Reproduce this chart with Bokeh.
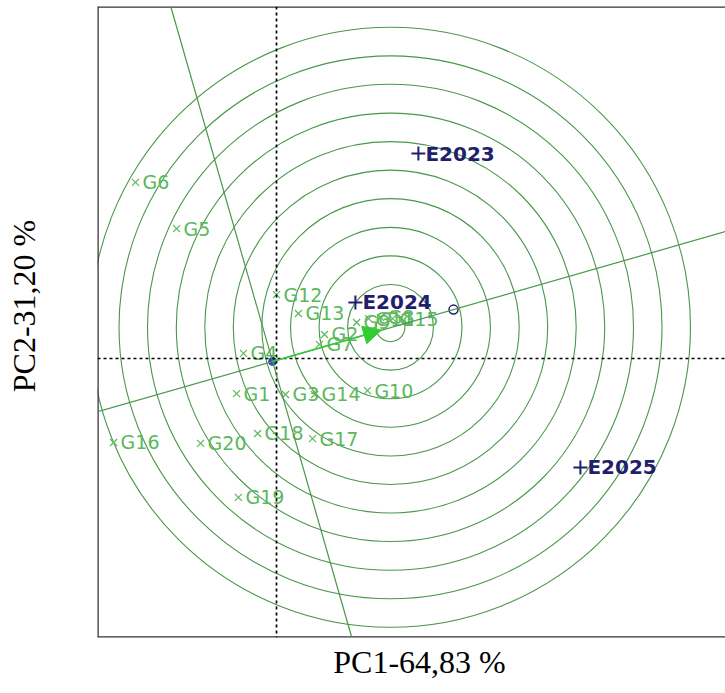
from bokeh.plotting import figure
from bokeh.models import ColumnDataSource, Span, Slope, Arrow, NormalHead, Range1d, FixedTicker
from bokeh.core.properties import value
from bokeh.embed import file_html
from bokeh.resources import INLINE

# ---------------- data ----------------
GENOTYPES = ["G1", "G2", "G3", "G4", "G5", "G6", "G7", "G8", "G9", "G10",
             "G11", "G12", "G13", "G14", "G15", "G16", "G17", "G18", "G19", "G20"]
G_PC1 = [-1.33, 1.60, 0.30, -1.10, -3.33, -4.70, 1.43, 3.47, 2.67, 3.03,
         3.07, 0.00, 0.73, 1.27, 3.87, -5.43, 1.20, -0.63, -1.27, -2.53]
G_PC2 = [-1.17, 0.80, -1.20, 0.17, 4.33, 5.87, 0.47, 1.37, 1.20, -1.07,
         1.33, 2.13, 1.50, -1.20, 1.33, -2.80, -2.67, -2.50, -4.63, -2.83]

ENVS = ["E2023", "E2024", "E2025"]
E_PC1 = [4.73, 2.63, 10.13]
E_PC2 = [6.83, 1.87, -3.63]

AVG_ENV = [5.90, 1.63]        # average environment (small circle)
ORIGIN = [-0.13, -0.10]       # biplot origin (blue dot)
IDEAL = [3.80, 1.04]          # ideal genotype (centre of the circles)
RADII = [0.48, 1.43, 2.38, 3.33, 4.29, 5.24, 6.19, 7.14, 8.10, 9.05, 10.00]

X_TITLE = "PC1-64,83 %"
Y_TITLE = "PC2-31,20 %"

# ---------------- styling ----------------
GREEN_LINE = "#4a974a"
GREEN_TXT = "#5cb85c"
GREEN_BRIGHT = "#33cc33"
NAVY = "#1f1f6e"
BLUE_DOT = "#3048c0"
NBSP = "\u00a0"

X0, X1 = -5.967, 14.967
Y0, Y1 = -9.3, 11.733

p = figure(width=725, height=685, x_range=Range1d(X0, X1), y_range=Range1d(Y0, Y1),
           x_axis_location="below", y_axis_location="left",
           toolbar_location=None, output_backend="svg",
           min_border_left=97, min_border_right=0, min_border_top=6, min_border_bottom=48)
p.grid.visible = False
p.outline_line_color = None
p.background_fill_color = "white"
p.border_fill_color = "white"

# axes: only their titles are shown (the reference has no ticks)
for ax in (p.xaxis, p.yaxis):
    ax.ticker = FixedTicker(ticks=[])
    ax.axis_line_color = None
    ax.major_tick_line_color = None
    ax.minor_tick_line_color = None
    ax.axis_label_text_font = "Liberation Serif"
    ax.axis_label_text_font_size = "32px"
    ax.axis_label_text_font_style = "normal"
    ax.axis_label_text_color = "black"
# leading no-break spaces nudge the centred titles to where the reference has them
p.xaxis.axis_label = NBSP * 2 + X_TITLE
p.yaxis.axis_label = NBSP * 4 + Y_TITLE
p.xaxis.axis_label_standoff = 6
p.yaxis.axis_label_standoff = 56

# frame (left, top, bottom; right side is cut off in the reference)
for loc, dim in [(X0, "height"), (Y1, "width"), (Y0, "width")]:
    p.add_layout(Span(location=loc, dimension=dim, line_color="#333333", line_width=2.5))

# dotted zero axes
p.add_layout(Span(location=0, dimension="height", line_color="black", line_width=1.7, line_dash="3 3"))
p.add_layout(Span(location=0, dimension="width", line_color="black", line_width=1.7, line_dash="3 3"))

# concentric circles around the ideal genotype
csrc = ColumnDataSource(dict(x=[IDEAL[0]] * len(RADII), y=[IDEAL[1]] * len(RADII), r=RADII))
p.circle(x="x", y="y", radius="r", source=csrc, fill_color=None,
         line_color=GREEN_LINE, line_width=1.1)

# average-environment axis and its perpendicular through the origin
g = (AVG_ENV[1] - ORIGIN[1]) / (AVG_ENV[0] - ORIGIN[0])
p.add_layout(Slope(gradient=g, y_intercept=ORIGIN[1] - g * ORIGIN[0],
                   line_color=GREEN_LINE, line_width=1.2))
gp = -1.0 / g
p.add_layout(Slope(gradient=gp, y_intercept=ORIGIN[1] - gp * ORIGIN[0],
                   line_color=GREEN_LINE, line_width=1.2))

# arrow toward the ideal genotype
p.add_layout(Arrow(end=NormalHead(size=18, fill_color=GREEN_BRIGHT, line_color=GREEN_BRIGHT),
                   x_start=ORIGIN[0], y_start=ORIGIN[1], x_end=IDEAL[0] - 0.3, y_end=IDEAL[1] - 0.09,
                   line_color=GREEN_BRIGHT, line_width=1.5))

# genotypes
gsrc = ColumnDataSource(dict(x=G_PC1, y=G_PC2, t=GENOTYPES))
p.scatter(x="x", y="y", source=gsrc, marker="x", size=10, line_color=GREEN_TXT, line_width=1.2)
p.text(x="x", y="y", text="t", source=gsrc, x_offset=7, text_baseline="middle", text_align="left",
       text_font=value("DejaVu Sans"), text_font_size="19px", text_color=GREEN_TXT)

# environments
esrc = ColumnDataSource(dict(x=E_PC1, y=E_PC2, t=ENVS))
p.scatter(x="x", y="y", source=esrc, marker="cross", size=14, line_color=NAVY, line_width=2)
p.text(x="x", y="y", text="t", source=esrc, x_offset=7, text_baseline="middle", text_align="left",
       text_font=value("DejaVu Sans"), text_font_size="20px", text_font_style="bold", text_color=NAVY)

# average environment marker and origin dot
p.scatter(x=[AVG_ENV[0]], y=[AVG_ENV[1]], marker="circle", size=9, fill_color=None,
          line_color=NAVY, line_width=1.5)
p.scatter(x=[ORIGIN[0]], y=[ORIGIN[1]], marker="circle", size=8, fill_color=BLUE_DOT, line_color=BLUE_DOT)

open("out.html", "w").write(file_html(p, INLINE))
